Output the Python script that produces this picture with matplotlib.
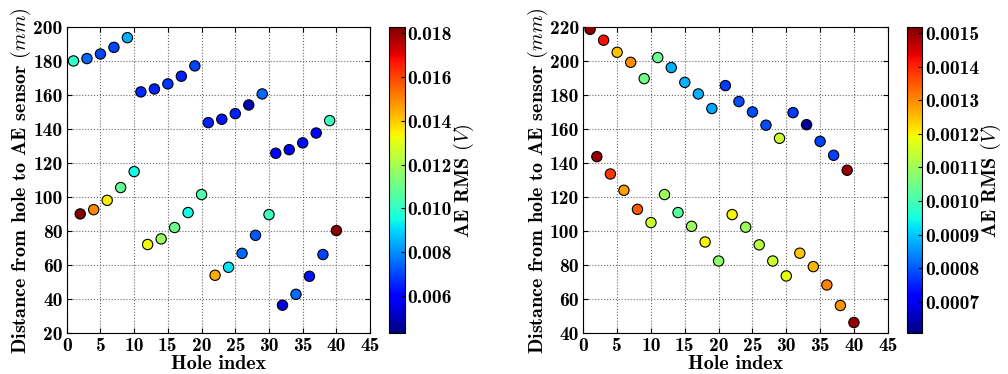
import numpy as np
import matplotlib
matplotlib.use("Agg")
import matplotlib.pyplot as plt

plt.rcParams["font.family"] = "cmb10"
plt.rcParams["mathtext.fontset"] = "cm"
plt.rcParams["axes.unicode_minus"] = False

# Links: hålindex, avstånd (mm), AE RMS (V)
hole_a = [1, 3, 5, 7, 9, 11, 13, 15, 17, 19, 21, 23, 25, 27, 29, 31, 33, 35, 37, 39,
          2, 4, 6, 8, 10, 12, 14, 16, 18, 20, 22, 24, 26, 28, 30, 32, 34, 36, 38, 40]
dist_a = [180.2, 181.6, 184.3, 188.2, 193.9, 162.0, 163.7, 166.7, 171.2, 177.3,
          143.9, 145.9, 149.2, 154.3, 160.8, 125.9, 128.0, 132.0, 137.8, 145.1,
          90.2, 92.7, 98.2, 105.7, 115.1, 72.2, 75.5, 82.2, 91.0, 101.6,
          54.1, 58.8, 67.0, 77.6, 89.8, 36.5, 42.9, 53.5, 66.3, 80.4]
rms_a = [0.0100, 0.0075, 0.0070, 0.0070, 0.0085, 0.0066, 0.0065, 0.0068, 0.0065, 0.0070,
         0.0065, 0.0063, 0.0065, 0.0050, 0.0075, 0.0060, 0.0058, 0.0062, 0.0060, 0.0102,
         0.0182, 0.0150, 0.0135, 0.0108, 0.0095, 0.0133, 0.0118, 0.0110, 0.0095, 0.0105,
         0.0145, 0.0092, 0.0075, 0.0073, 0.0102, 0.0055, 0.0075, 0.0063, 0.0070, 0.0181]

# Höger
hole_b = hole_a
dist_b = [218.8, 212.4, 205.3, 199.4, 189.8, 202.2, 196.3, 187.6, 180.8, 172.2,
          185.7, 176.3, 170.2, 162.4, 154.7, 169.8, 162.7, 152.9, 144.7, 135.9,
          143.9, 133.7, 124.1, 112.9, 105.1, 121.6, 111.0, 102.9, 93.7, 82.5,
          109.8, 102.4, 92.0, 82.5, 73.7, 87.1, 79.2, 68.4, 56.3, 46.3]
rms_b = [0.00151, 0.00142, 0.00125, 0.00130, 0.00105, 0.00104, 0.00088, 0.00088, 0.00088, 0.00087,
         0.00077, 0.00079, 0.00079, 0.00079, 0.00115, 0.00077, 0.00062, 0.00078, 0.00078, 0.00150,
         0.00150, 0.00138, 0.00128, 0.00135, 0.00115, 0.00110, 0.00102, 0.00110, 0.00120, 0.00108,
         0.00120, 0.00110, 0.00113, 0.00115, 0.00118, 0.00124, 0.00126, 0.00131, 0.00129, 0.00150]

fig = plt.figure(figsize=(10.08, 3.74), dpi=100)


def panel(rect, crect, x, y, c, vmin, vmax, ylim, yticks, cticks, cfmt):
    ax = fig.add_axes(rect)
    sc = ax.scatter(x, y, c=c, cmap="jet", vmin=vmin, vmax=vmax, s=55,
                    edgecolors="black", linewidths=0.8, zorder=3)
    ax.set_xlim(0, 45)
    ax.set_ylim(*ylim)
    ax.set_xticks(range(0, 46, 5))
    ax.set_yticks(yticks)
    ax.grid(True, linestyle=":", color="dimgray", linewidth=0.8)
    ax.tick_params(direction="in", labelsize=14, top=True, right=True, pad=3)
    ax.set_xlabel("Hole index", fontsize=14.5, labelpad=0)
    ax.set_ylabel(r"Distance from hole to AE sensor $(mm)$", fontsize=14.5, labelpad=0)
    cax = fig.add_axes(crect)
    cb = fig.colorbar(sc, cax=cax, ticks=cticks, format=cfmt)
    cb.outline.set_linewidth(0.8)
    cb.ax.tick_params(labelsize=14, direction="in", length=3, pad=2)
    cb.set_label(r"AE RMS $(V)$", fontsize=14.5, labelpad=0)
    return ax


panel([0.0662, 0.109, 0.301, 0.818], [0.386, 0.109, 0.0156, 0.818],
      hole_a, dist_a, rms_a, 0.0043, 0.01827, (20, 200), range(20, 201, 20),
      [0.006, 0.008, 0.010, 0.012, 0.014, 0.016, 0.018], "%.3f")
panel([0.5787, 0.109, 0.302, 0.818], [0.8995, 0.109, 0.0155, 0.818],
      hole_b, dist_b, rms_b, 0.0006057, 0.0015179, (40, 220), range(40, 221, 20),
      [0.0007, 0.0008, 0.0009, 0.0010, 0.0011, 0.0012, 0.0013, 0.0014, 0.0015], "%.4f")

plt.savefig("out.png", dpi=100)
